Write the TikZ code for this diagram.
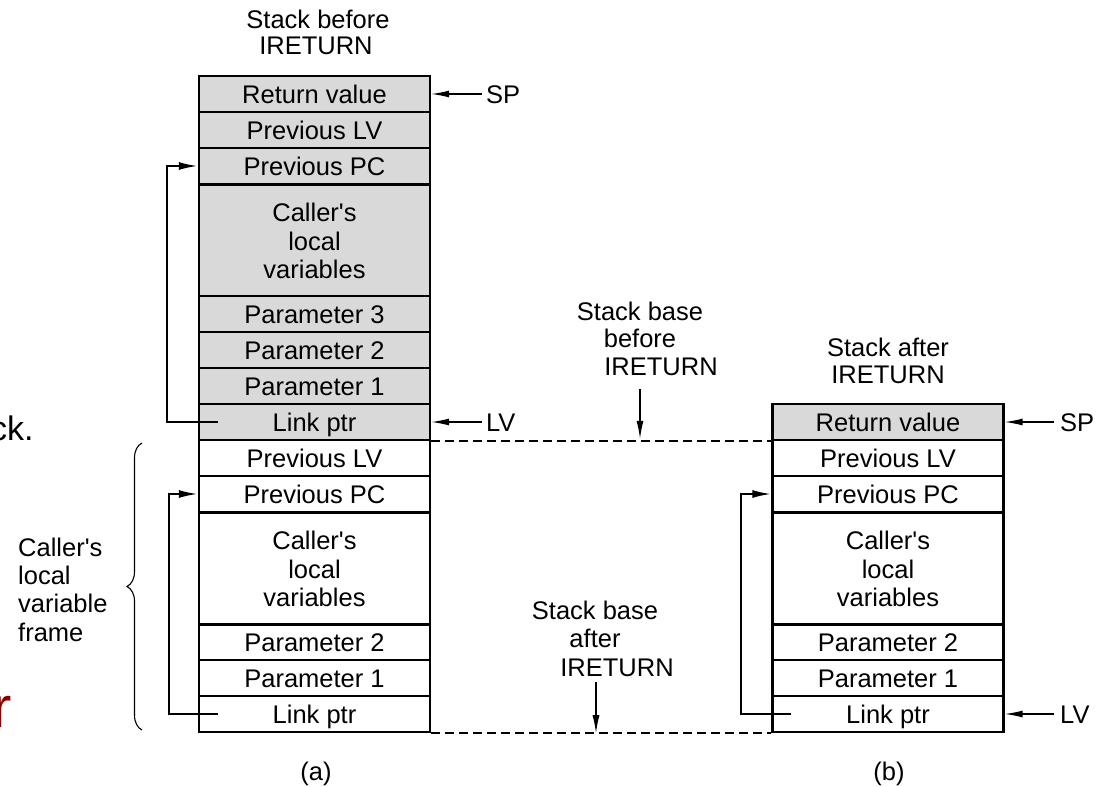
\documentclass[tikz,border=0pt]{standalone}
\usepackage{fontspec}
\setmainfont{Liberation Sans}
\usetikzlibrary{arrows.meta,calc,decorations.pathreplacing}
\definecolor{cellgray}{RGB}{217,217,217}
\definecolor{slidered}{RGB}{139,0,0}
\begin{document}
\begin{tikzpicture}[x=1pt,y=-1pt,
  txt/.style={font=\fontsize{25.5}{28.5}\selectfont, inner sep=0pt},
  lbl/.style={txt, text height=18.5pt, text depth=0pt},
  cell/.style={lbl, draw, line width=2.4pt, minimum width=231pt, minimum height=36pt},
  bigcell/.style={txt, draw, line width=2.4pt, minimum width=231pt, minimum height=112pt, align=center},
  shaded/.style={fill=cellgray},
  ptr/.style={line width=1.3pt, -{Latex[length=18pt,width=7pt]}},
  linkarrow/.style={line width=2pt, -{Latex[length=19pt,width=8pt]}},
  baseline dash/.style={line width=2pt, dash pattern=on 9pt off 5pt}]
\useasboundingbox (0,0) rectangle (1112,787);
\clip (0,0) rectangle (1112,787);

% slide fragments at the left edge
\node[font=\fontsize{34}{40}\selectfont, inner sep=0pt, anchor=base west] (frag1) at (-10,440) {ck.};
\node[font=\fontsize{58}{64}\selectfont, inner sep=0pt, anchor=base west, text=slidered] (frag2) at (-8,727) {r};

% ---------- left stack (a) ----------
\node[cell,shaded] (r1) at (314.5,94) {Return value};
\node[cell,shaded] (r2) at (314.5,130) {Previous LV};
\node[cell,shaded] (r3) at (314.5,166) {Previous PC};
\node[bigcell,shaded] (r4) at (314.5,241) {Caller\textquotesingle s\\local\\variables};
\node[cell,shaded] (r5) at (314.5,314) {Parameter 3};
\node[cell,shaded] (r6) at (314.5,350) {Parameter 2};
\node[cell,shaded] (r7) at (314.5,386) {Parameter 1};
\node[cell,shaded] (r8) at (314.5,422) {Link ptr};
\node[cell] (r9) at (314.5,458) {Previous LV};
\node[cell] (r10) at (314.5,494) {Previous PC};
\node[bigcell] (r11) at (314.5,569) {Caller\textquotesingle s\\local\\variables};
\node[cell] (r12) at (314.5,642) {Parameter 2};
\node[cell] (r13) at (314.5,678) {Parameter 1};
\node[cell] (r14) at (314.5,714) {Link ptr};
\path (r4.north) ++(0,0);

% ---------- right stack (b) ----------
\node[cell,shaded] (s1) at (888,422) {Return value};
\node[cell] (s2) at (888,458) {Previous LV};
\node[cell] (s3) at (888,494) {Previous PC};
\node[bigcell] (s4) at (888,569) {Caller\textquotesingle s\\local\\variables};
\node[cell] (s5) at (888,642) {Parameter 2};
\node[cell] (s6) at (888,678) {Parameter 1};
\node[cell] (s7) at (888,714) {Link ptr};

% ---------- titles and labels ----------
\node[lbl] (t1) at (318,19) {Stack before};
\node[lbl] (t2) at (316,45) {IRETURN};
\node[lbl] (u1) at (888,347) {Stack after};
\node[lbl] (u2) at (888,374) {IRETURN};
\node[lbl] (b1) at (640,311) {Stack base};
\node[lbl] (b2) at (640,338) {before};
\node[lbl] (b3) at (661,366) {IRETURN};
\node[lbl] (a1) at (595,610) {Stack base};
\node[lbl] (a2) at (595,638) {after};
\node[lbl] (a3) at (617,667) {IRETURN};
\node[lbl] (capa) at (316,771) {(a)};
\node[lbl] (capb) at (889,771) {(b)};

\node[lbl, anchor=west] (f1) at (18,547) {Caller\textquotesingle s};
\node[lbl, anchor=west] (f2) at (18,575) {local};
\node[lbl, anchor=west] (f3) at (18,603) {variable};
\node[lbl, anchor=west] (f4) at (18,632) {frame};
\draw[line width=1.1pt, decorate, decoration={brace, amplitude=15pt}] (142,730) -- (142,443);

% ---------- SP / LV pointers ----------
\coordinate (spa) at (482,94);
\coordinate (lva) at (482,422);
\coordinate (spb) at (1054,422);
\coordinate (lvb) at (1054,714);
\draw[ptr] (spa) -- (r1.east);
\draw[ptr] (lva) -- (r8.east);
\draw[ptr] (spb) -- (s1.east);
\draw[ptr] (lvb) -- (s7.east);
\node[lbl, anchor=west] (sp1) at (486,94) {SP};
\node[lbl, anchor=west] (lv1) at (486,422) {LV};
\node[lbl, anchor=west] (sp2) at (1060,422) {SP};
\node[lbl, anchor=west] (lv2) at (1060,714) {LV};

% ---------- link pointers ----------
\draw[linkarrow] ($(r8.west)+(20,0)$) -- ++(-51,0) |- (r3.west);
\draw[linkarrow] ($(r14.west)+(20,0)$) -- ++(-49,0) |- (r10.west);
\draw[linkarrow] ($(s7.west)+(20,0)$) -- ++(-50,0) |- (s3.west);

% ---------- stack base lines ----------
\draw[baseline dash] (r8.south east) -- (s1.south west);
\draw[baseline dash] (r14.south east) -- (s7.south west);
\coordinate (sbb) at (640,389);
\coordinate (sba) at (596,682);
\draw[ptr] (sbb) -- (sbb |- r9.north);
\draw[ptr] (sba) -- (sba |- r14.south);
\end{tikzpicture}
\end{document}
